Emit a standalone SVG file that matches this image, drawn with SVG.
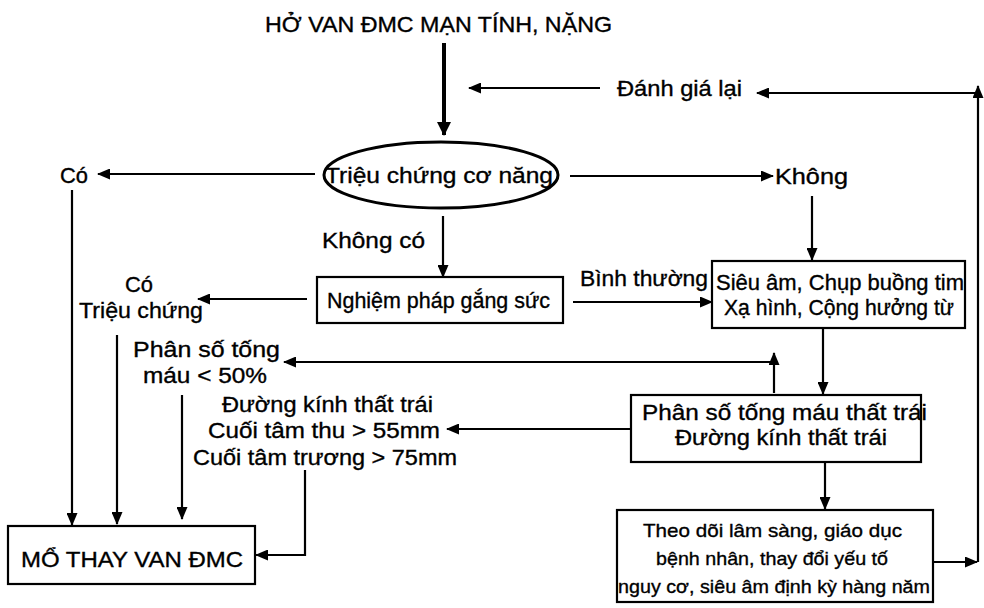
<svg xmlns="http://www.w3.org/2000/svg" width="984" height="608" viewBox="0 0 984 608">
<defs>
<style>
text{font-family:"Liberation Sans",Arial,sans-serif;font-size:22px;fill:#000;stroke:#000;stroke-width:0.35px;}
.t{font-size:22px;}
.s{font-size:19px;}
.box{fill:#fff;stroke:#000;stroke-width:2.2;}
.c{fill:none;stroke:#000;stroke-width:2.2;marker-end:url(#ah);}
</style>
<marker id="ah" markerUnits="userSpaceOnUse" markerWidth="13" markerHeight="11" refX="12" refY="5.5" orient="auto" viewBox="0 0 13 11">
<path d="M0,0 L13,5.5 L0,11 z" fill="#000"/>
</marker>
<marker id="ahb" markerUnits="userSpaceOnUse" markerWidth="14" markerHeight="14" refX="13" refY="7" orient="auto" viewBox="0 0 14 14">
<path d="M0,0 L14,7 L0,14 z" fill="#000"/>
</marker>
</defs>
<rect width="984" height="608" fill="#fff"/>

<g id="connectors">
<path d="M444,43 V135" fill="none" stroke="#000" stroke-width="4" marker-end="url(#ahb)"/>
<path class="c" d="M600,88 H469"/>
<path class="c" d="M976,93 H757"/>
<path class="c" d="M978,562 V86"/>
<path class="c" d="M315,174 H98"/>
<path class="c" d="M570,176 H773"/>
<path class="c" d="M812,196 V260"/>
<path class="c" d="M443,216 V277"/>
<path class="c" d="M573,302 H712"/>
<path class="c" d="M307,299 H198"/>
<path class="c" d="M72,190 V525"/>
<path class="c" d="M117,335 V524"/>
<path class="c" d="M182,395 V519"/>
<path class="c" d="M305,470 V555 H256"/>
<path class="c" d="M823,328 V394"/>
<path class="c" d="M774,393 V353"/>
<path class="c" d="M774,362 H284"/>
<path class="c" d="M631,429 H447"/>
<path class="c" d="M825,462 V509"/>
<path class="c" d="M933,562 H977"/>
</g>

<g id="title">
<text class="t" x="265" y="32" textLength="347" lengthAdjust="spacingAndGlyphs">HỞ VAN ĐMC MẠN TÍNH, NẶNG</text>
</g>

<g id="danh-gia-lai">
<text x="617" y="96" textLength="125" lengthAdjust="spacingAndGlyphs">Đánh giá lại</text>
</g>

<g id="trieu-chung-co-nang">
<ellipse cx="441" cy="175" rx="117" ry="33" fill="none" stroke="#000" stroke-width="3"/>
<text x="325" y="183" textLength="228" lengthAdjust="spacingAndGlyphs">Triệu chứng cơ năng</text>
</g>

<g id="co-top">
<text x="60" y="183" textLength="28" lengthAdjust="spacingAndGlyphs">Có</text>
</g>

<g id="khong">
<text x="775" y="184" textLength="73" lengthAdjust="spacingAndGlyphs">Không</text>
</g>

<g id="khong-co">
<text x="322" y="248" textLength="103" lengthAdjust="spacingAndGlyphs">Không có</text>
</g>

<g id="nghiem-phap">
<rect class="box" x="317" y="277" width="246" height="46"/>
<text x="327" y="308" textLength="223" lengthAdjust="spacingAndGlyphs">Nghiệm pháp gắng sức</text>
</g>

<g id="binh-thuong">
<text x="580" y="286" textLength="128" lengthAdjust="spacingAndGlyphs">Bình thường</text>
</g>

<g id="sieu-am">
<rect class="box" x="712" y="261" width="253" height="67"/>
<text x="716" y="290" textLength="248" lengthAdjust="spacingAndGlyphs">Siêu âm, Chụp buồng tim</text>
<text x="724" y="315" textLength="230" lengthAdjust="spacingAndGlyphs">Xạ hình, Cộng hưởng từ</text>
</g>

<g id="co-trieu-chung">
<text x="125" y="292" textLength="28" lengthAdjust="spacingAndGlyphs">Có</text>
<text x="79" y="318" textLength="124" lengthAdjust="spacingAndGlyphs">Triệu chứng</text>
</g>

<g id="phan-so-50">
<text x="133" y="357" textLength="147" lengthAdjust="spacingAndGlyphs">Phân số tống</text>
<text x="143" y="383" textLength="124" lengthAdjust="spacingAndGlyphs">máu &lt; 50%</text>
</g>

<g id="duong-kinh">
<text x="222" y="412" textLength="211" lengthAdjust="spacingAndGlyphs">Đường kính thất trái</text>
<text x="208" y="438" textLength="232" lengthAdjust="spacingAndGlyphs">Cuối tâm thu &gt; 55mm</text>
<text x="193" y="465" textLength="264" lengthAdjust="spacingAndGlyphs">Cuối tâm trương &gt; 75mm</text>
</g>

<g id="phan-so-box">
<rect class="box" x="631" y="395" width="290" height="67"/>
<text x="642" y="420" textLength="285" lengthAdjust="spacingAndGlyphs">Phân số tống máu thất trái</text>
<text x="675" y="445" textLength="212" lengthAdjust="spacingAndGlyphs">Đường kính thất trái</text>
</g>

<g id="mo-thay-van">
<rect class="box" x="8" y="526" width="247" height="58"/>
<text x="21" y="567" textLength="222" lengthAdjust="spacingAndGlyphs">MỔ THAY VAN ĐMC</text>
</g>

<g id="theo-doi">
<rect class="box" x="617" y="510" width="316" height="92"/>
<text class="s" x="643" y="537" textLength="259" lengthAdjust="spacingAndGlyphs">Theo dõi lâm sàng, giáo dục</text>
<text class="s" x="656" y="565" textLength="232" lengthAdjust="spacingAndGlyphs">bệnh nhân, thay đổi yếu tố</text>
<text class="s" x="618" y="593" textLength="312" lengthAdjust="spacingAndGlyphs">nguy cơ, siêu âm định kỳ hàng năm</text>
</g>
</svg>
